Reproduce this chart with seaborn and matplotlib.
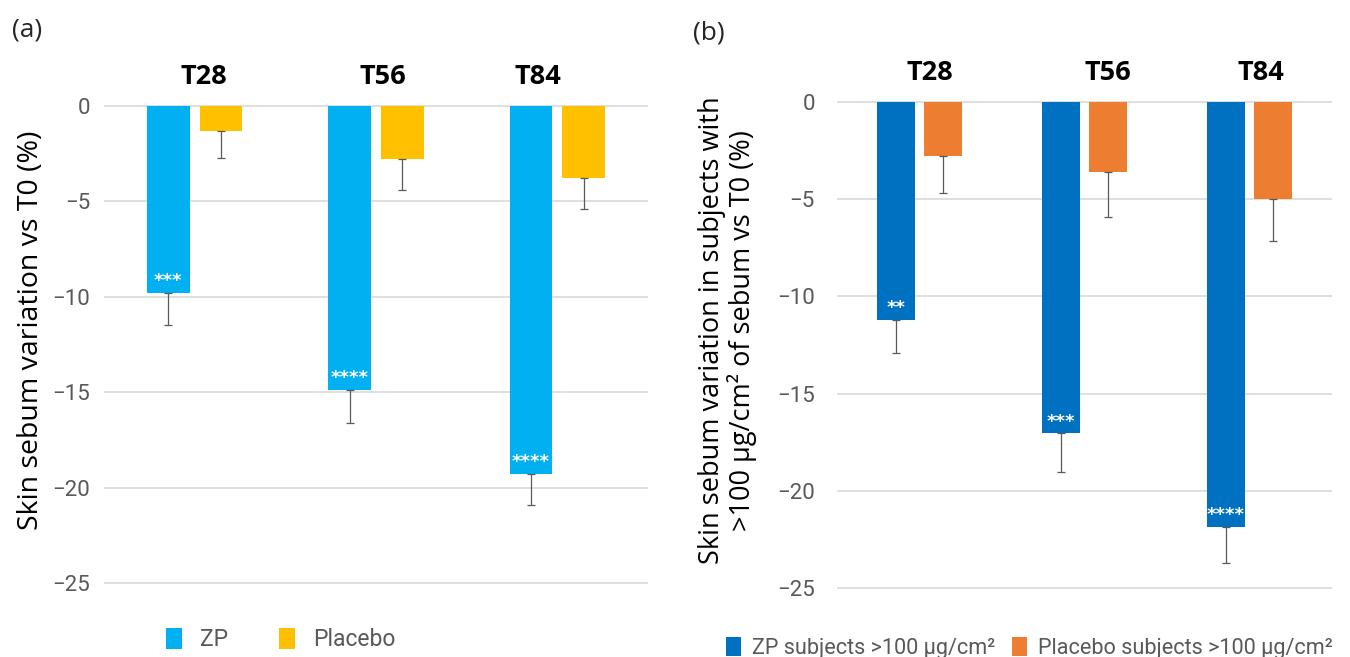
import matplotlib
matplotlib.use("Agg")
import matplotlib.pyplot as plt
import seaborn as sns
import pandas as pd

# ---------------- data ----------------
timepoints = ["T28", "T56", "T84"]

a_groups = ["ZP", "Placebo"]
a_zp = [-9.8, -14.9, -19.3]
a_zp_err = [1.7, 1.7, 1.6]
a_placebo = [-1.3, -2.75, -3.75]
a_placebo_err = [1.4, 1.65, 1.65]
a_stars = ["***", "****", "****"]

b_groups = ["ZP subjects >100 µg/cm²", "Placebo subjects >100 µg/cm²"]
b_zp = [-11.2, -17.05, -21.85]
b_zp_err = [1.7, 2.0, 1.85]
b_placebo = [-2.78, -3.62, -5.0]
b_placebo_err = [1.9, 2.28, 2.15]
b_stars = ["**", "***", "****"]

y_ticks = [0, -5, -10, -15, -20, -25]

# ---------------- style ----------------
sns.set_theme(style="white")
plt.rcParams["font.family"] = ["Open Sans", "DejaVu Sans"]

GRID = "#D9D9D9"
TICK = "#595959"
ERR = "#595959"

fig = plt.figure(figsize=(13.5, 6.57), dpi=100)
ax_a = fig.add_axes([0.077, 0.0982, 0.403, 0.7462])
ax_b = fig.add_axes([0.620, 0.0903, 0.3667, 0.7604])


def panel(ax, groups, zp, zp_err, pl, pl_err, stars, colors, width, gap,
          label_x, ylabel, ylabel_x, tick_pad, ylabel_size):
    df = pd.DataFrame({
        "time": timepoints * 2,
        "group": [groups[0]] * len(timepoints) + [groups[1]] * len(timepoints),
        "value": zp + pl,
    })
    sns.barplot(data=df, x="time", y="value", hue="group", hue_order=groups,
                order=timepoints, palette=colors, width=width, gap=gap,
                errorbar=None, legend=False, ax=ax, saturation=1, linewidth=0)
    for cont, err in zip(ax.containers, [zp_err, pl_err]):
        xs = [b.get_x() + b.get_width() / 2 for b in cont]
        ys = [b.get_y() + b.get_height() for b in cont]
        ax.errorbar(xs, ys, yerr=[err, [0] * len(err)], fmt="none",
                    ecolor=ERR, elinewidth=0.9, capsize=3, capthick=0.9,
                    zorder=3)
    for b, s in zip(ax.containers[0], stars):
        ax.annotate(s, (b.get_x() + b.get_width() / 2, b.get_y() + b.get_height()),
                    xytext=(0, 2), textcoords="offset points", ha="center",
                    va="bottom", color="white", fontsize=13, fontweight="bold",
                    family=["DejaVu Sans"], zorder=4)
    for lx, t in zip(label_x, timepoints):
        ax.text(lx, 1.5, t, ha="center", va="center", fontsize=19.5,
                fontweight="bold", color="black")
    ax.set_xlim(-0.5, 2.5)
    ax.set_ylim(-25.5, 0.2)
    ax.set_yticks(y_ticks)
    ax.set_yticklabels([f"{v}".replace("-", "\u2212") for v in y_ticks],
                       family=["Roboto", "DejaVu Sans"], fontsize=16, color=TICK)
    ax.tick_params(axis="y", length=0, pad=tick_pad)
    ax.set_xticks([])
    ax.set_xlabel("")
    ax.yaxis.grid(True, color=GRID, linewidth=1.2)
    ax.set_axisbelow(True)
    for sp in ax.spines.values():
        sp.set_visible(False)
    ax.set_ylabel(ylabel, fontsize=ylabel_size, color="black", linespacing=1.05)
    ax.yaxis.set_label_coords(ylabel_x, 0.535)


panel(ax_a, a_groups, a_zp, a_zp_err, a_placebo, a_placebo_err, a_stars,
      ["#00B0F0", "#FFC000"], 0.58, 0.19, [0.05, 1.04, 1.89],
      "Skin sebum variation vs T0 (%)", -0.108, 10, 20.5)
panel(ax_b, b_groups, b_zp, b_zp_err, b_placebo, b_placebo_err, b_stars,
      ["#0070C0", "#ED7D31"], 0.57, 0.21, [0.06, 1.14, 2.07],
      "Skin sebum variation in subjects with\n>100 µg/cm² of sebum vs T0 (%)",
      -0.162, 16, 19.5)

fig.text(0.009, 0.955, "(a)", fontsize=19, ha="left", va="center")
fig.text(0.513, 0.95, "(b)", fontsize=19, ha="left", va="center")

leg_kw = dict(frameon=False, ncol=2, handlelength=0.7, handleheight=1.0,
              labelcolor=TICK, loc="center")
fig.legend(handles=[ax_a.containers[0], ax_a.containers[1]], labels=a_groups,
           bbox_to_anchor=(0.208, 0.026), columnspacing=2.2, handletextpad=0.8,
           prop={"family": ["Roboto", "DejaVu Sans"], "size": 16.5}, **leg_kw)
fig.legend(handles=[ax_b.containers[0], ax_b.containers[1]], labels=b_groups,
           bbox_to_anchor=(0.7625, 0.014), columnspacing=0.8, handletextpad=0.5,
           prop={"family": ["Roboto", "DejaVu Sans"], "size": 15.6}, **leg_kw)

fig.savefig("out.png", dpi=100)
